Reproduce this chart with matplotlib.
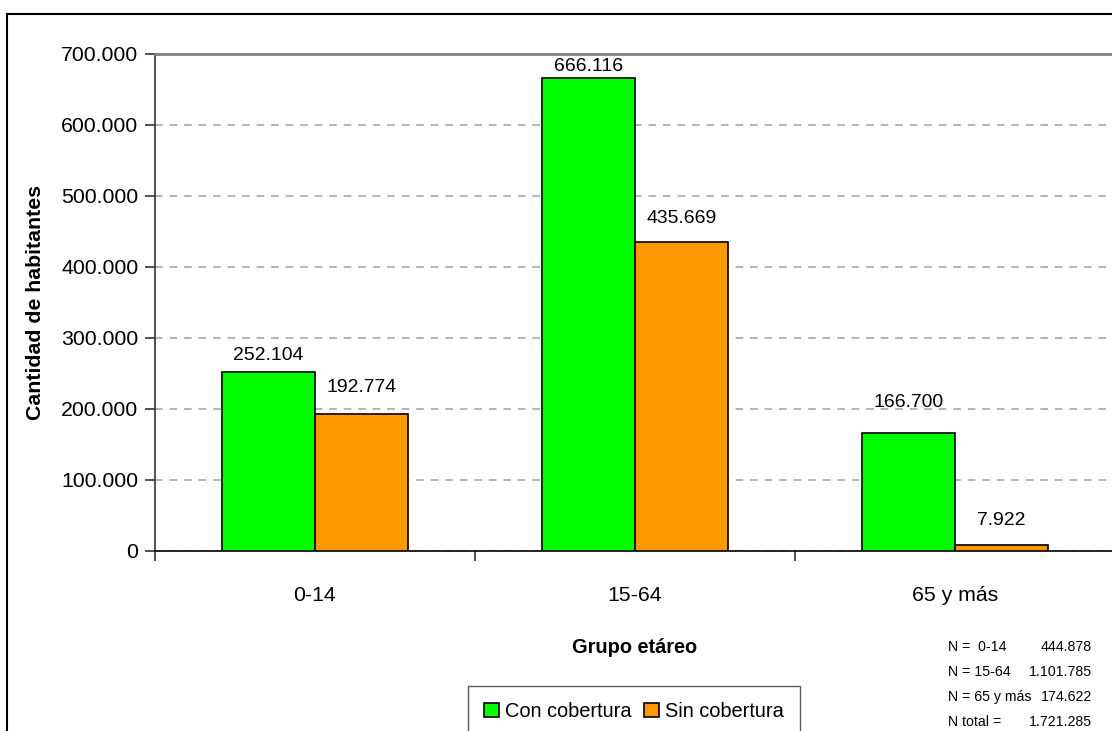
import numpy as np
import matplotlib
matplotlib.use("Agg")
import matplotlib.pyplot as plt
from matplotlib import font_manager
from matplotlib.patches import Rectangle

# age groups and population counts by health coverage
grupos = ["0-14", "15-64", "65 y más"]
con_cobertura = [252104, 666116, 166700]
sin_cobertura = [192774, 435669, 7922]
y_ticks = [0, 100000, 200000, 300000, 400000, 500000, 600000, 700000]

# totals shown in the corner box
resumen_etiquetas = ["N =  0-14", "N = 15-64", "N = 65 y más", "N total ="]
resumen_valores = ["444.878", "1.101.785", "174.622", "1.721.285"]

# label nudges above each bar (points)
desplaz_con = [12, 8, 22]
desplaz_sin = [19, 17, 18]


def fmt_miles(v):
    return "{:,}".format(int(v)).replace(",", ".")


nombres = {f.name for f in font_manager.fontManager.ttflist}
if "Liberation Sans Narrow" in nombres:
    fuente = "Liberation Sans Narrow"
    k = 1.0
else:
    fuente = "Liberation Sans"
    k = 0.9
plt.rcParams["font.family"] = [fuente, "DejaVu Sans"]

W, H = 1112, 731
fig = plt.figure(figsize=(W / 100, H / 100), dpi=100)
ax = fig.add_axes([155 / W, 1 - 551 / H, 960 / W, 497 / H])

x = np.arange(len(grupos)) + 0.5
ancho = 0.29
b1 = ax.bar(x - ancho / 2, con_cobertura, ancho, color="#00ff00",
            edgecolor="black", linewidth=1.2, label="Con cobertura", zorder=3)
b2 = ax.bar(x + ancho / 2, sin_cobertura, ancho, color="#ff9900",
            edgecolor="black", linewidth=1.2, label="Sin cobertura", zorder=3)

for barras, desp in ((b1, desplaz_con), (b2, desplaz_sin)):
    for r, d in zip(barras, desp):
        v = r.get_height()
        ax.annotate(fmt_miles(v), (r.get_x() + r.get_width() / 2, v),
                    xytext=(0, d), textcoords="offset points",
                    ha="center", va="center", fontsize=15.5 * k, zorder=4)

ax.set_xlim(0, 3)
ax.set_ylim(0, 700000)
ax.set_yticks(y_ticks)
ax.set_yticklabels([fmt_miles(t) for t in y_ticks])
ax.set_xticks(x)
ax.set_xticklabels(grupos)
ax.set_xticks([0, 1, 2, 3], minor=True)
ax.tick_params(axis="x", which="major", length=0, pad=25, labelsize=17 * k)
ax.tick_params(axis="x", which="minor", length=7, width=1.2, color="#333333")
ax.tick_params(axis="y", length=7, width=1.2, color="#333333", pad=5,
               labelsize=17 * k)

ax.yaxis.grid(True, linestyle=(0, (5, 4.5)), color="#a0a0a0", linewidth=1.1)
ax.set_axisbelow(True)

ax.spines["right"].set_visible(False)
ax.spines["top"].set_color("#808080")
ax.spines["top"].set_linewidth(2)
ax.spines["left"].set_color("#333333")
ax.spines["left"].set_linewidth(1.2)
ax.spines["bottom"].set_color("black")
ax.spines["bottom"].set_linewidth(1.2)

ax.set_xlabel("Grupo etáreo", fontsize=16 * k, fontweight="bold", labelpad=24)
ax.set_ylabel("Cantidad de habitantes", fontsize=17 * k, fontweight="bold",
              labelpad=12)

fig.legend(handles=[b1, b2], loc="upper center",
           bbox_to_anchor=(634 / W, 1 - 686 / H), ncol=2,
           fontsize=16 * k, frameon=True, fancybox=False, edgecolor="#333333",
           handlelength=0.75, handleheight=0.75, handletextpad=0.3,
           columnspacing=0.6, borderpad=0.8, borderaxespad=0)

for i, (et, val) in enumerate(zip(resumen_etiquetas, resumen_valores)):
    yy = 1 - (647 + 25 * i) / H
    fig.text(948 / W, yy, et, fontsize=11.3 * k, ha="left", va="center")
    fig.text(1092 / W, yy, val, fontsize=11.3 * k, ha="right", va="center")

# frame around the whole chart
fig.patches.append(Rectangle((7 / W, -0.2), 1.0, 1.2 - 14 / H,
                             transform=fig.transFigure, fill=False,
                             edgecolor="black", linewidth=1.5))

fig.savefig("out.png", dpi=100)
